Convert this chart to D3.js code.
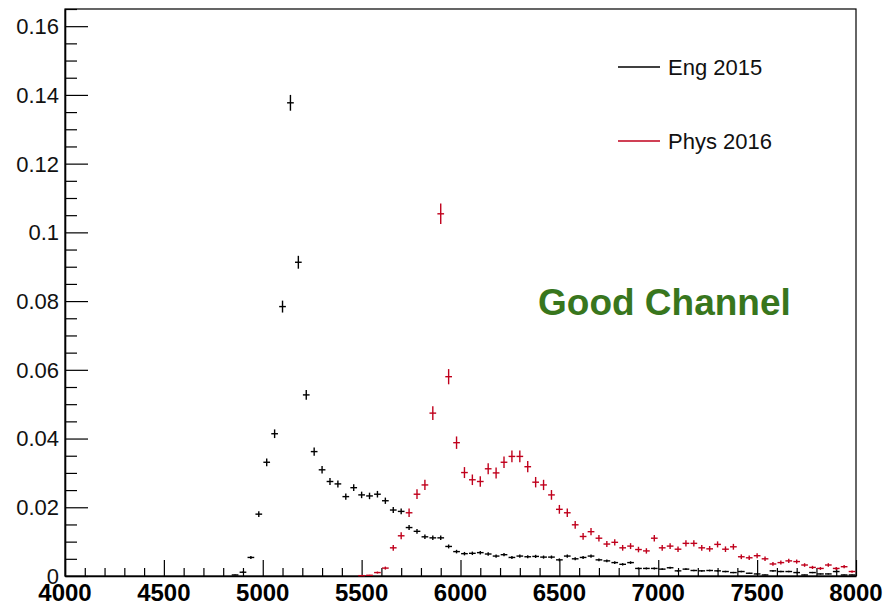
<!DOCTYPE html>
<html>
<head>
<meta charset="utf-8">
<script src="https://cdn.jsdelivr.net/npm/d3@7"></script>
<style>
  html, body { margin: 0; padding: 0; background: #fff; }
  svg { display: block; }
</style>
</head>
<body>
<svg id="chart" width="891" height="608"></svg>
<script>
// ---- data ----
const binWidth = 40;
const engBins = [4860,4900,4940,4980,5020,5060,5100,5140,5180,5220,5260,5300,5340,5380,5420,5460,5500,5540,5580,5620,5660,5700,5740,5780,5820,5860,5900,5940,5980,6020,6060,6100,6140,6180,6220,6260,6300,6340,6380,6420,6460,6500,6540,6580,6620,6660,6700,6740,6780,6820,6860,6900,6940,6980,7020,7060,7100,7140,7180,7220,7260,7300,7340,7380,7420,7460,7500,7540,7580,7620,7660,7700,7740,7780,7820,7860,7900,7940,7980];
const engValues = [0.0003,0.0011,0.0054,0.0180,0.0331,0.0414,0.0784,0.1377,0.0913,0.0527,0.0362,0.0309,0.0275,0.0268,0.0231,0.0257,0.0236,0.0233,0.0238,0.0219,0.0192,0.0188,0.0141,0.0130,0.0114,0.0111,0.0111,0.0086,0.0071,0.0065,0.0066,0.0068,0.0064,0.0058,0.0062,0.0054,0.0058,0.0056,0.0057,0.0055,0.0055,0.0047,0.0058,0.0050,0.0054,0.0058,0.0047,0.0044,0.0039,0.0034,0.0039,0.0022,0.0022,0.0022,0.0020,0.0024,0.0015,0.0020,0.0016,0.0015,0.0016,0.0015,0.0013,0.0010,0.0013,0.0008,0.0006,0.0003,0.0015,0.0013,0.0013,0.0010,0.0003,0.0010,0.0006,0.0006,0.0013,0.0003,0.0003];
const physBins = [5500,5540,5580,5620,5660,5700,5740,5780,5820,5860,5900,5940,5980,6020,6060,6100,6140,6180,6220,6260,6300,6340,6380,6420,6460,6500,6540,6580,6620,6660,6700,6740,6780,6820,6860,6900,6940,6980,7020,7060,7100,7140,7180,7220,7260,7300,7340,7380,7420,7460,7500,7540,7580,7620,7660,7700,7740,7780,7820,7860,7900,7940,7980];
const physValues = [0.0001,0.0002,0.0010,0.0023,0.0082,0.0117,0.0184,0.0238,0.0265,0.0474,0.1054,0.0580,0.0388,0.0301,0.0280,0.0275,0.0312,0.0300,0.0331,0.0348,0.0348,0.0318,0.0273,0.0265,0.0236,0.0194,0.0184,0.0149,0.0115,0.0129,0.0110,0.0093,0.0098,0.0082,0.0087,0.0077,0.0073,0.0110,0.0082,0.0087,0.0078,0.0095,0.0095,0.0082,0.0079,0.0092,0.0078,0.0085,0.0056,0.0053,0.0059,0.0050,0.0035,0.0039,0.0044,0.0042,0.0032,0.0025,0.0022,0.0032,0.0022,0.0027,0.0013];
const xTickValues = [4000,4500,5000,5500,6000,6500,7000,7500,8000];
const yTickValues = [0,0.02,0.04,0.06,0.08,0.1,0.12,0.14,0.16];
const seriesNames = ["Eng 2015", "Phys 2016"];
const seriesColors = ["#000000", "#c0001c"];
const annotation = "Good Channel";

// ---- layout ----
const svg = d3.select("#chart");
const L = 65, R = 856, T = 9, B = 576;
const x = d3.scaleLinear().domain([4000, 8000]).range([L, R]);
const y = d3.scaleLinear().domain([0, 0.165]).range([B, T]);

// frame
svg.append("rect").attr("x", L).attr("y", T).attr("width", R - L).attr("height", B - T)
  .attr("fill", "none").attr("stroke", "#000").attr("stroke-width", 1.2);

// x axis ticks (drawn upward inside)
const xMinor = d3.range(4000, 8001, 100);
const xAxis = d3.axisBottom(x).tickValues(xMinor).tickSizeInner(-8).tickSizeOuter(0).tickFormat("");
const gx = svg.append("g").attr("transform", `translate(0,${B})`).call(xAxis);
gx.select(".domain").attr("stroke-width", 1.4);
gx.selectAll(".tick line").attr("stroke-width", 1.2)
  .attr("y2", d => (d % 500 === 0 ? -16 : -8));
svg.append("g").selectAll("text").data(xTickValues).join("text")
  .attr("x", d => x(d)).attr("y", 601)
  .attr("text-anchor", "middle")
  .attr("font-family", "Liberation Sans, Arial, sans-serif")
  .attr("font-weight", "bold").attr("font-size", 24)
  .attr("fill", "#000")
  .text(d => d);

// y axis ticks (drawn rightward inside)
const yMinor = d3.range(0, 0.1651, 0.005);
const yAxis = d3.axisLeft(y).tickValues(yMinor).tickSizeInner(-12).tickSizeOuter(0).tickFormat("");
const gy = svg.append("g").attr("transform", `translate(${L},0)`).call(yAxis);
gy.select(".domain").attr("stroke-width", 1.6);
gy.selectAll(".tick line").attr("stroke-width", 1.2)
  .attr("x2", d => (Math.abs(Math.round(d * 1000) % 20) === 0 ? 23 : 12));
svg.append("g").selectAll("text").data(yTickValues).join("text")
  .attr("x", 59).attr("y", d => y(d)).attr("dy", "0.36em")
  .attr("text-anchor", "end")
  .attr("font-family", "Liberation Sans, Arial, sans-serif")
  .attr("font-size", 22)
  .attr("fill", "#111")
  .text(d => (d === 0 ? "0" : String(+d.toFixed(2))));

// data crosses (bin-width horizontal bar, statistical vertical bar)
function drawSeries(bins, values, color, k) {
  const g = svg.append("g").attr("stroke", color).attr("stroke-width", 1.4).attr("fill", "none");
  const pts = bins.map((b, i) => ({ b, v: values[i], e: k * Math.sqrt(values[i]) }));
  g.selectAll("line.h").data(pts).join("line").attr("class", "h")
    .attr("x1", d => x(d.b - binWidth / 2) + 0.6).attr("x2", d => x(d.b + binWidth / 2) - 0.6)
    .attr("y1", d => y(d.v)).attr("y2", d => y(d.v));
  g.selectAll("line.v").data(pts).join("line").attr("class", "v")
    .attr("x1", d => x(d.b)).attr("x2", d => x(d.b))
    .attr("y1", d => Math.min(B, y(d.v - d.e))).attr("y2", d => y(d.v + d.e));
}
drawSeries(engBins, engValues, seriesColors[0], 0.0062);
drawSeries(physBins, physValues, seriesColors[1], 0.0092);

// legend
const legendY = [67, 141];
seriesNames.forEach((name, i) => {
  svg.append("line").attr("x1", 618).attr("x2", 660)
    .attr("y1", legendY[i]).attr("y2", legendY[i])
    .attr("stroke", seriesColors[i]).attr("stroke-width", 1.3);
  svg.append("text").attr("x", 668).attr("y", legendY[i]).attr("dy", "0.36em")
    .attr("font-family", "Liberation Sans, Arial, sans-serif")
    .attr("font-size", 22).attr("fill", "#111")
    .text(name);
});

// annotation
svg.append("text").attr("x", 538).attr("y", 315)
  .attr("font-family", "Liberation Sans, Arial, sans-serif")
  .attr("font-weight", "bold").attr("font-size", 37)
  .attr("fill", "#38761d")
  .text(annotation);
</script>
</body>
</html>
